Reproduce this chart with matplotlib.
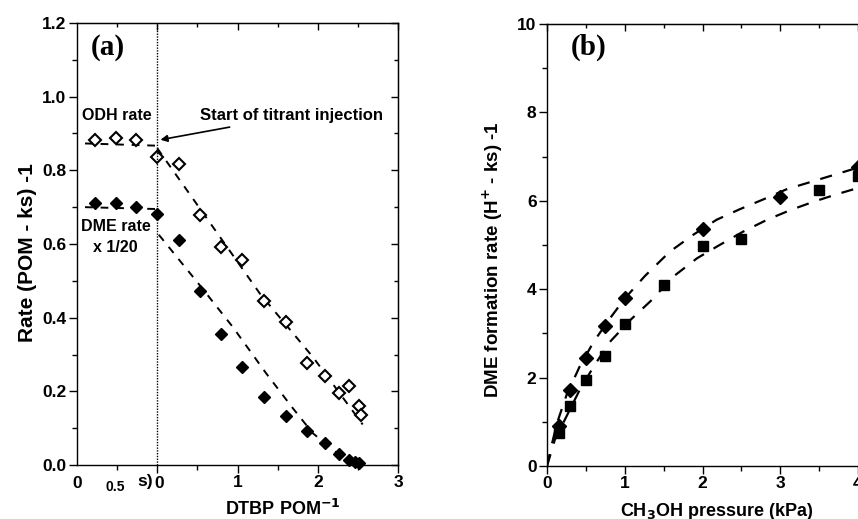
import matplotlib
matplotlib.use("Agg")
import matplotlib.pyplot as plt
from matplotlib.ticker import FixedLocator

plt.rcParams['font.family'] = ['Liberation Sans', 'DejaVu Sans']
plt.rcParams['font.weight'] = 'bold'
plt.rcParams['mathtext.default'] = 'bf'

# ---- Panel (a) data ----
odh_x = [-0.77, -0.51, -0.26, 0.0, 0.27, 0.53, 0.80, 1.06, 1.33, 1.60, 1.86, 2.09, 2.26, 2.39, 2.51, 2.54]
odh_y = [0.883, 0.887, 0.883, 0.835, 0.818, 0.680, 0.593, 0.556, 0.444, 0.388, 0.277, 0.241, 0.196, 0.214, 0.160, 0.136]
dme_x = [-0.77, -0.51, -0.26, 0.0, 0.27, 0.53, 0.80, 1.06, 1.33, 1.60, 1.86, 2.09, 2.26, 2.39, 2.46, 2.52]
dme_y = [0.712, 0.711, 0.700, 0.682, 0.612, 0.472, 0.357, 0.265, 0.185, 0.133, 0.092, 0.059, 0.030, 0.014, 0.009, 0.005]

odh_flat_x = [-0.9, -0.02]
odh_flat_y = [0.873, 0.867]
odh_fit_x = [0.0, 0.74, 1.28, 1.94, 2.56]
odh_fit_y = [0.86, 0.632, 0.465, 0.293, 0.11]
dme_flat_x = [-0.9, -0.02]
dme_flat_y = [0.700, 0.695]
dme_fit_x = [0.02, 0.53, 0.94, 1.36, 1.69, 1.94, 2.27, 2.5]
dme_fit_y = [0.625, 0.488, 0.375, 0.248, 0.154, 0.086, 0.027, 0.0]

# ---- Panel (b) data ----
dia_x = [0.15, 0.3, 0.5, 0.75, 1.0, 2.0, 3.0, 4.0]
dia_y = [0.90, 1.73, 2.45, 3.17, 3.79, 5.37, 6.09, 6.77]
sq_x = [0.15, 0.3, 0.5, 0.75, 1.0, 1.5, 2.0, 2.5, 3.5, 4.0]
sq_y = [0.75, 1.36, 1.95, 2.50, 3.21, 4.10, 4.98, 5.14, 6.24, 6.55]

up_fit_x = [0.0, 0.05, 0.125, 0.25, 0.42, 0.6, 0.81, 1.0, 1.26, 1.58, 1.88, 2.18, 2.48, 2.78, 3.08, 3.38, 3.68, 3.96, 4.3]
up_fit_y = [0.0, 0.40, 0.95, 1.60, 2.25, 2.81, 3.34, 3.79, 4.30, 4.85, 5.23, 5.57, 5.81, 6.03, 6.26, 6.42, 6.58, 6.73, 6.88]
lo_fit_x = [0.0, 0.1, 0.25, 0.42, 0.6, 0.81, 1.07, 1.35, 1.62, 1.93, 2.22, 2.52, 2.83, 3.13, 3.43, 3.73, 3.98, 4.3]
lo_fit_y = [0.0, 0.59, 1.12, 1.72, 2.25, 2.81, 3.30, 3.76, 4.28, 4.70, 5.00, 5.30, 5.57, 5.79, 5.98, 6.15, 6.28, 6.42]

W, H = 858, 519
fig = plt.figure(figsize=(W / 100, H / 100), dpi=100)

def box(l, t, r, b):
    return [l / W, 1 - b / H, (r - l) / W, (b - t) / H]

def style_axes(ax, xmajor, xminor, ymajor, yminor, labelsize):
    for s in ax.spines.values():
        s.set_linewidth(1.0)
    ax.set_xticks(xmajor)
    ax.xaxis.set_minor_locator(FixedLocator(xminor))
    ax.set_yticks(ymajor)
    ax.yaxis.set_minor_locator(FixedLocator(yminor))
    ax.tick_params(which='major', direction='out', length=5.5, width=1.0, labelsize=labelsize)
    ax.tick_params(which='minor', direction='out', length=3.5, width=1.0)
    ax.tick_params(axis='x', pad=2)
    ax.tick_params(axis='y', pad=2)
    sx = ax.secondary_xaxis('top')
    sx.set_xticks(xmajor)
    sx.xaxis.set_minor_locator(FixedLocator(xminor))
    sx.tick_params(which='major', direction='in', length=5, width=1.0, labeltop=False)
    sx.tick_params(which='minor', direction='in', length=3, width=1.0)
    sy = ax.secondary_yaxis('right')
    sy.set_yticks(ymajor)
    sy.yaxis.set_minor_locator(FixedLocator(yminor))
    sy.tick_params(which='major', direction='in', length=5, width=1.0, labelright=False)
    sy.tick_params(which='minor', direction='in', length=3, width=1.0)

# ================= Panel (a) =================
ax1 = fig.add_axes(box(77, 23, 398, 465))
ax1.set_xlim(-1, 3)
ax1.set_ylim(0, 1.2)

dash_a = (0, (4, 4))
ax1.plot(odh_flat_x, odh_flat_y, color='black', lw=1.4, ls=dash_a)
ax1.plot(odh_fit_x, odh_fit_y, color='black', lw=1.4, ls=dash_a)
ax1.plot(dme_flat_x, dme_flat_y, color='black', lw=1.4, ls=dash_a)
ax1.plot(dme_fit_x, dme_fit_y, color='black', lw=1.4, ls=dash_a)
ax1.plot(odh_x, odh_y, ls='none', marker='D', ms=6.5, mfc='white', mec='black', mew=1.5, clip_on=False)
ax1.plot(dme_x, dme_y, ls='none', marker='D', ms=6.5, mfc='black', mec='black', clip_on=False)
ax1.axvline(0, color='black', lw=1.0, ls=(0, (1, 1)))

style_axes(ax1, [0, 1, 2, 3], [-0.5, 0.5, 1.5, 2.5],
           [0, 0.2, 0.4, 0.6, 0.8, 1.0, 1.2], [0.1, 0.3, 0.5, 0.7, 0.9, 1.1], 12.5)
ax1.set_xticklabels(['', '1', '2', '3'])
ax1.set_yticklabels(['0.0', '0.2', '0.4', '0.6', '0.8', '1.0', '1.2'])

# inset time-axis remnants below the axis
tr = ax1.get_xaxis_transform()
ax1.text(-1.0, -0.025, '0', transform=tr, ha='center', va='top', fontsize=12.5, fontweight='bold')
ax1.text(-0.52, -0.033, '0.5', transform=tr, ha='center', va='top', fontsize=10, fontweight='bold')
ax1.text(-0.15, -0.02, 's)', transform=tr, ha='center', va='top', fontsize=12.5, fontweight='bold')
ax1.text(0.02, -0.025, '0', transform=tr, ha='center', va='top', fontsize=12.5, fontweight='bold')

ax1.set_xlabel('DTBP POM$^{-1}$', fontsize=13, fontweight='bold', va='baseline')
ax1.xaxis.set_label_coords(0.64, -0.113)
ax1.set_ylabel('Rate (POM - ks) -1', fontsize=15, fontweight='bold')
ax1.yaxis.set_label_coords(-0.125, 0.48)

ax1.text(-0.62, 1.133, '(a)', fontsize=21, fontweight='bold',
         family=['Liberation Serif', 'DejaVu Serif'], ha='center', va='center')
ax1.text(-0.5, 0.948, 'ODH rate', fontsize=11.5, fontweight='bold', ha='center', va='center')
ax1.text(-0.52, 0.647, 'DME rate', fontsize=11.5, fontweight='bold', ha='center', va='center')
ax1.text(-0.52, 0.59, 'x 1/20', fontsize=11.5, fontweight='bold', ha='center', va='center')
ax1.annotate('Start of titrant injection', xy=(0.04, 0.883), xytext=(0.53, 0.948),
             fontsize=12, fontweight='bold', ha='left', va='center',
             arrowprops=dict(arrowstyle='-|>', color='black', lw=1.2, mutation_scale=10,
                             shrinkA=4, shrinkB=0))

# ================= Panel (b) =================
ax2 = fig.add_axes(box(547, 24, 547 + 5 * 77.75, 466))
ax2.set_xlim(0, 5)
ax2.set_ylim(0, 10)
dash_b = (0, (5.5, 5))
ax2.plot(up_fit_x, up_fit_y, color='black', lw=1.6, ls=dash_b)
ax2.plot(lo_fit_x, lo_fit_y, color='black', lw=1.6, ls=dash_b)
ax2.plot(dia_x, dia_y, ls='none', marker='D', ms=6.8, color='black')
ax2.plot(sq_x, sq_y, ls='none', marker='s', ms=7.2, color='black')

style_axes(ax2, [0, 1, 2, 3, 4, 5], [0.5, 1.5, 2.5, 3.5, 4.5],
           [0, 2, 4, 6, 8, 10], [1, 3, 5, 7, 9], 12.5)
ax2.set_xlabel('CH$_{3}$OH pressure (kPa)', fontsize=13, fontweight='bold', va='baseline')
ax2.xaxis.set_label_coords(0.436, -0.113)
ax2.set_ylabel('DME formation rate (H$^{+}$ - ks) -1', fontsize=13.5, fontweight='bold')
ax2.yaxis.set_label_coords(-0.107, 0.466)
ax2.text(0.54, 9.48, '(b)', fontsize=21, fontweight='bold',
         family=['Liberation Serif', 'DejaVu Serif'], ha='center', va='center')

fig.savefig('out.png', dpi=100)
